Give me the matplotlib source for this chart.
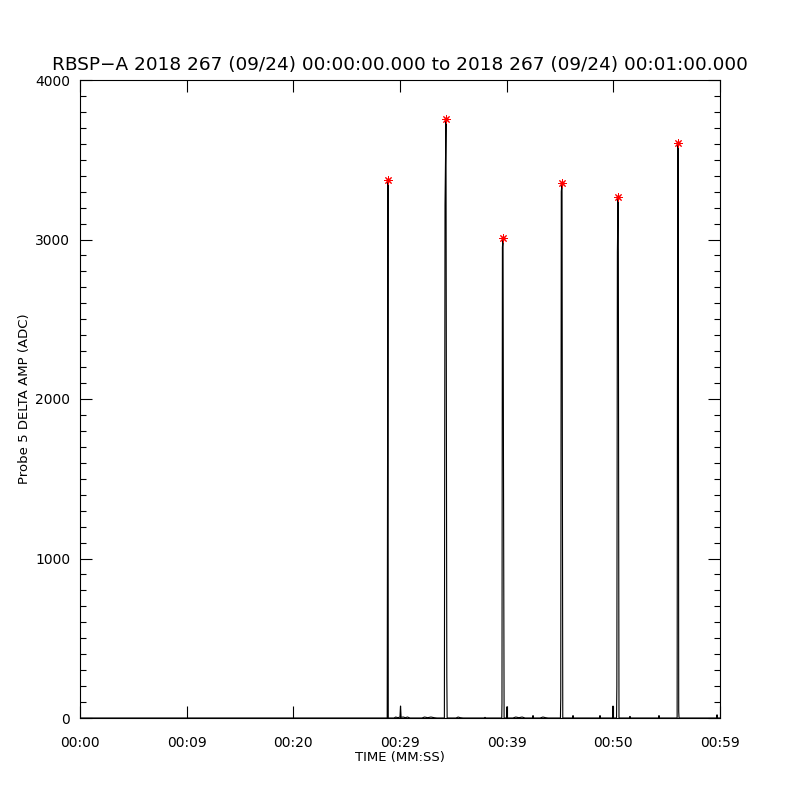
import numpy as np
import matplotlib
matplotlib.use('Agg')
import matplotlib.pyplot as plt

# time (s) and probe 5 delta amplitude (ADC)
t = [0.0, 28.80, 28.84, 28.87, 28.90,
     29.44, 29.6, 29.8, 30.0, 30.05, 30.1, 30.3, 30.5, 30.7, 30.94,
     32.06, 32.3, 32.6, 32.9, 33.2, 33.47,
     34.16, 34.22, 34.31, 34.36, 34.39, 34.42,
     35.25, 35.45, 35.65, 35.91,
     37.88, 37.97, 38.06,
     39.54, 39.56, 39.60, 39.66, 39.70, 39.76, 40.00, 40.03, 40.06,
     40.59, 40.85, 41.15, 41.45, 41.72,
     42.45, 42.47, 42.50,
     43.13, 43.4, 43.65, 43.88,
     45.04, 45.07, 45.12, 45.19, 45.22, 45.26,
     46.20, 46.22, 46.25, 48.73, 48.75, 48.78,
     49.94, 49.97, 50.00, 50.30, 50.33, 50.38, 50.44, 50.47, 50.50, 50.53,
     51.54, 51.56, 51.59, 54.26, 54.28, 54.31,
     55.98, 56.01, 56.04, 56.06, 56.09, 56.13, 56.16,
     59.70, 59.72, 59.75, 60.0]
amp = [0, 0, 1930, 3373, 0,
       0, 6, 2, 6, 75, 4, 6, 2, 6, 0,
       0, 6, 2, 6, 2, 0,
       0, 3216, 3755, 1430, 257, 0,
       0, 6, 2, 0,
       0, 4, 0,
       0, 90, 2950, 3009, 1630, 0, 0, 70, 0,
       0, 6, 2, 6, 0,
       0, 15, 0,
       0, 6, 2, 0,
       0, 125, 3300, 3354, 1740, 0,
       0, 15, 0, 0, 15, 0,
       0, 75, 0, 0, 200, 2920, 3266, 2920, 1330, 0,
       0, 10, 0, 0, 15, 0,
       0, 2050, 3230, 3605, 3230, 40, 0,
       0, 20, 0, 0]

# detected peaks
peak_t = [28.87, 34.31, 39.66, 45.19, 50.44, 56.06]
peak_amp = [3373, 3755, 3009, 3354, 3266, 3605]

xtick_pos = [0, 10, 20, 30, 40, 50, 60]
xtick_lab = ['00:00', '00:09', '00:20', '00:29', '00:39', '00:50', '00:59']
ytick_pos = [0, 1000, 2000, 3000, 4000]

fig = plt.figure(figsize=(8, 8), dpi=100)
ax = fig.add_axes([0.1, 0.1025, 0.8, 0.7975])

ax.plot(t, amp, color='black', lw=0.8)
ax.plot(peak_t, peak_amp, linestyle='none', marker=(8, 2, 0), markersize=6,
        markeredgecolor='red', markeredgewidth=0.7)
ax.plot(peak_t, peak_amp, linestyle='none', marker='o', markersize=2,
        color='red')

ax.set_xlim(0, 60)
ax.set_ylim(0, 4000)
ax.set_xticks(xtick_pos)
ax.set_xticklabels(xtick_lab)
ax.set_yticks(ytick_pos)
ax.set_yticks(np.arange(0, 4001, 100), minor=True)

ax.tick_params(which='both', direction='in', top=True, right=True,
               labelsize=10, width=0.8)
ax.tick_params(axis='x', which='major', length=8.5, pad=13)
ax.tick_params(axis='y', which='major', length=8.5, pad=7)
ax.tick_params(which='minor', length=4.3)
ax.tick_params(axis='x', which='minor', bottom=False, top=False)
for s in ax.spines.values():
    s.set_linewidth(0.8)

ax.set_title('RBSP\u2212A 2018 267 (09/24) 00:00:00.000 to 2018 267 (09/24) 00:01:00.000',
             fontsize=13.3, pad=7)
ax.set_xlabel('TIME (MM:SS)', fontsize=9.5, labelpad=1)
ax.set_ylabel('Probe 5 DELTA AMP (ADC)', fontsize=9.5)
ax.yaxis.set_label_coords(-0.077, 0.5)

plt.savefig('out.png', dpi=100)
